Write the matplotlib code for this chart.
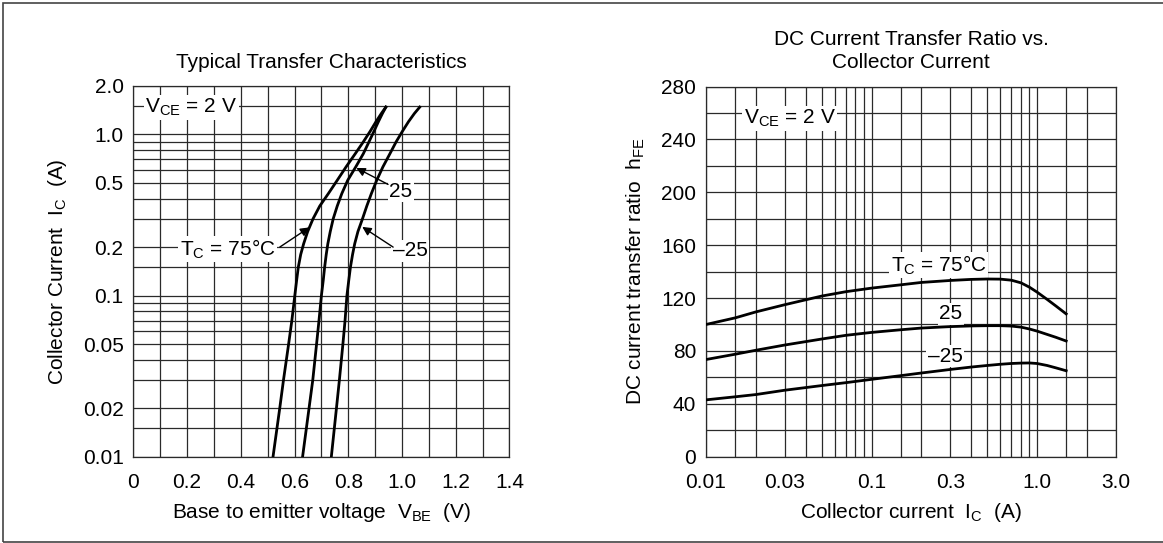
import numpy as np
import matplotlib
matplotlib.use("Agg")
import matplotlib.pyplot as plt
from matplotlib.ticker import FixedLocator, FixedFormatter, NullFormatter
from matplotlib.patches import Rectangle

plt.rcParams['font.family'] = ['Liberation Sans', 'DejaVu Sans']
plt.rcParams['mathtext.fontset'] = 'custom'
plt.rcParams['mathtext.rm'] = 'Liberation Sans'
plt.rcParams['mathtext.it'] = 'Liberation Sans:italic'
plt.rcParams['font.size'] = 15

# --- left chart: transfer characteristics (I_C in A, V_BE in V for each Tc)
ic_left = [0.01, 0.02, 0.03, 0.05, 0.07, 0.1, 0.125, 0.15, 0.18, 0.21, 0.25,
           0.3, 0.36, 0.43, 0.52, 0.63, 0.76, 0.9, 1.05, 1.2, 1.35, 1.48]
vbe_75 = [0.520, 0.545, 0.559, 0.578, 0.590, 0.601, 0.608, 0.614, 0.623, 0.634, 0.649,
          0.669, 0.694, 0.726, 0.759, 0.792, 0.826, 0.856, 0.882, 0.903, 0.923, 0.940]
vbe_25 = [0.630, 0.654, 0.668, 0.682, 0.691, 0.700, 0.707, 0.712, 0.718, 0.724, 0.733,
          0.744, 0.759, 0.776, 0.798, 0.828, 0.856, 0.877, 0.896, 0.912, 0.927, 0.940]
vbe_m25 = [0.737, 0.756, 0.767, 0.780, 0.788, 0.795, 0.802, 0.808, 0.816, 0.824, 0.836,
           0.853, 0.869, 0.886, 0.906, 0.929, 0.955, 0.978, 1.002, 1.024, 1.046, 1.066]

# --- right chart: hFE vs collector current (A)
ic_right = [0.01, 0.015, 0.02, 0.03, 0.05, 0.07, 0.1, 0.15, 0.2, 0.3,
            0.4, 0.5, 0.6, 0.7, 0.8, 0.9, 1.0, 1.15, 1.3, 1.5]
hfe_75 = [100, 105, 109.5, 115, 121.5, 124.8, 127.5, 130, 131.8, 133.3,
          134.1, 134.4, 134.3, 133.5, 131.5, 128.2, 124.5, 119, 114, 108]
hfe_25 = [73.5, 77.5, 80.5, 84.5, 89, 91.8, 94, 96, 97.3, 98.4,
          98.9, 99.1, 99.1, 98.8, 98, 96.6, 95, 92.5, 90.3, 87.5]
hfe_m25 = [43, 45.3, 47, 50.3, 53.8, 56, 58.5, 61.3, 63.3, 66,
           67.8, 69, 69.9, 70.5, 70.8, 70.9, 70.5, 69, 67.2, 65]

left_yticks = [0.01, 0.02, 0.05, 0.1, 0.2, 0.5, 1.0, 2.0]
left_ylabels = ['0.01', '0.02', '0.05', '0.1', '0.2', '0.5', '1.0', '2.0']
left_ygrid = [0.015, 0.03, 0.04, 0.06, 0.07, 0.08, 0.09, 0.15, 0.3, 0.4, 0.6, 0.7, 0.8, 0.9, 1.5]
left_xticks = [0, 0.2, 0.4, 0.6, 0.8, 1.0, 1.2, 1.4]
left_xlabels = ['0', '0.2', '0.4', '0.6', '0.8', '1.0', '1.2', '1.4']
left_xgrid = [0.1, 0.3, 0.5, 0.7, 0.9, 1.1, 1.3]

right_xticks = [0.01, 0.03, 0.1, 0.3, 1.0, 3.0]
right_xlabels = ['0.01', '0.03', '0.1', '0.3', '1.0', '3.0']
right_xgrid = [0.015, 0.02, 0.04, 0.05, 0.06, 0.07, 0.08, 0.09,
               0.15, 0.2, 0.4, 0.5, 0.6, 0.7, 0.8, 0.9, 1.5, 2.0]
right_yticks = [0, 40, 80, 120, 160, 200, 240, 280]
right_ygrid = [20, 60, 100, 140, 180, 220, 260]

W, H = 1163, 543
fig = plt.figure(figsize=(W / 100, H / 100), dpi=100)

def px_axes(x0, x1, y0, y1):
    return fig.add_axes([x0 / W, 1 - y1 / H, (x1 - x0) / W, (y1 - y0) / H])

ax1 = px_axes(133.3, 509.5, 86.0, 456.7)
ax2 = px_axes(706.0, 1116.0, 86.5, 456.7)

grid_kw = dict(color='#2a2a2a', lw=0.9)
box = dict(boxstyle='square,pad=0.08', fc='white', ec='none')
arrow = dict(arrowstyle='-|>', color='black', lw=1.0, mutation_scale=13, shrinkA=0, shrinkB=0)
line_kw = dict(color='black', lw=2, zorder=4)

# left
ax1.set_yscale('log')
ax1.set_xlim(0, 1.4)
ax1.set_ylim(0.01, 2.0)
ax1.yaxis.set_major_locator(FixedLocator(left_yticks))
ax1.yaxis.set_major_formatter(FixedFormatter(left_ylabels))
ax1.yaxis.set_minor_locator(FixedLocator(left_ygrid))
ax1.yaxis.set_minor_formatter(NullFormatter())
ax1.xaxis.set_major_locator(FixedLocator(left_xticks))
ax1.xaxis.set_major_formatter(FixedFormatter(left_xlabels))
ax1.xaxis.set_minor_locator(FixedLocator(left_xgrid))
ax1.grid(True, which='both', **grid_kw)

ax1.plot(vbe_75, ic_left, **line_kw)
ax1.plot(vbe_25, ic_left, **line_kw)
ax1.plot(vbe_m25, ic_left, **line_kw)

ax1.text(0.045, 1.47, r'$\mathregular{V_{CE}}$ = 2 V', ha='left', va='center', bbox=box, zorder=3)
ax1.text(0.35, 0.195, r'$\mathregular{T_{C}}$ = 75°C', ha='center', va='center', bbox=box, zorder=3)
ax1.annotate('', xy=(0.655, 0.265), xytext=(0.545, 0.2), arrowprops=arrow, zorder=5)
ax1.text(0.996, 0.445, '25', ha='center', va='center', bbox=box, zorder=3)
ax1.annotate('', xy=(0.830, 0.62), xytext=(0.948, 0.49), arrowprops=arrow, zorder=5)
ax1.text(1.031, 0.19, '–25', ha='center', va='center', bbox=box, zorder=3)
ax1.annotate('', xy=(0.852, 0.267), xytext=(0.967, 0.2), arrowprops=arrow, zorder=5)

ax1.set_title('Typical Transfer Characteristics', fontsize=15, pad=13)
ax1.set_xlabel(r'Base to emitter voltage  $\mathregular{V_{BE}}$  (V)', labelpad=6)
ax1.set_ylabel(r'Collector Current  $\mathregular{I_{C}}$  (A)', labelpad=10)

# right
ax2.set_xscale('log')
ax2.set_xlim(0.01, 3.0)
ax2.set_ylim(0, 280)
ax2.xaxis.set_major_locator(FixedLocator(right_xticks))
ax2.xaxis.set_major_formatter(FixedFormatter(right_xlabels))
ax2.xaxis.set_minor_locator(FixedLocator(right_xgrid))
ax2.xaxis.set_minor_formatter(NullFormatter())
ax2.yaxis.set_major_locator(FixedLocator(right_yticks))
ax2.yaxis.set_minor_locator(FixedLocator(right_ygrid))
ax2.grid(True, which='both', **grid_kw)

ax2.plot(ic_right, hfe_75, **line_kw)
ax2.plot(ic_right, hfe_25, **line_kw)
ax2.plot(ic_right, hfe_m25, **line_kw)

ax2.text(0.0169, 256, r'$\mathregular{V_{CE}}$ = 2 V', ha='left', va='center', bbox=box, zorder=3)
ax2.text(0.2535, 145, r'$\mathregular{T_{C}}$ = 75°C', ha='center', va='center', bbox=box, zorder=3)
ax2.text(0.302, 108, '25', ha='center', va='center', bbox=box, zorder=3)
ax2.text(0.278, 76, '–25', ha='center', va='center', bbox=box, zorder=3)

ax2.set_title('DC Current Transfer Ratio vs.\nCollector Current', fontsize=15, pad=13, linespacing=1.3)
ax2.set_xlabel(r'Collector current  $\mathregular{I_{C}}$  (A)', labelpad=6)
ax2.set_ylabel(r'DC current transfer ratio  $\mathregular{h_{FE}}$', labelpad=10)

for ax in (ax1, ax2):
    ax.tick_params(which='both', length=0, labelsize=15)
    ax.tick_params(axis='y', pad=7)
    ax.tick_params(axis='x', pad=12)
    ax.set_axisbelow(True)
    for s in ax.spines.values():
        s.set_color('#2a2a2a')
        s.set_linewidth(0.9)

# outer frame (right side runs off the picture)
fig.add_artist(Rectangle((3.3 / W, 1 - 541.5 / H), 1.1, (541.5 - 3.3) / H,
                         transform=fig.transFigure, fill=False, ec='#444444', lw=1.2))

fig.savefig('out.png', dpi=100)
